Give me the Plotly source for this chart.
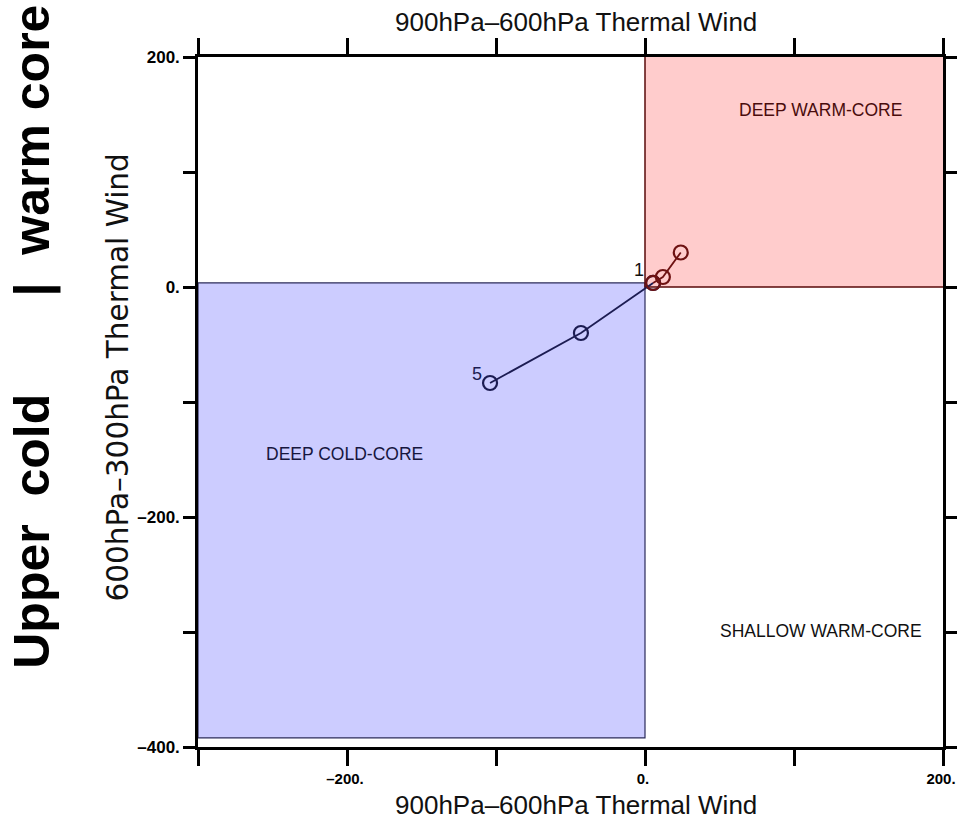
import plotly.graph_objects as go

# ---- data ----
x_ticks = [-300, -200, -100, 0, 100, 200]
x_tick_text = ["", "\u2013200.", "", "0.", "", "200."]
y_ticks = [-400, -300, -200, -100, 0, 100, 200]
y_tick_text = ["\u2013400.", "", "\u2013200.", "", "0.", "", "200."]

# phase regions (x0, x1, y0, y1)
cold_region = [-300, 0, -392, 3.5]
warm_region = [0, 202, 0, 205]

# track points
warm_x = [24, 12, 5.4]
warm_y = [30, 8.7, 3.5]
cold_x = [5.4, -43, -104]
cold_y = [3.5, -40, -83.5]

region_labels = ["DEEP WARM-CORE", "DEEP COLD-CORE", "SHALLOW WARM-CORE"]
region_label_x = [118, -202, 118]
region_label_y = [154, -145, -299]
region_label_colors = ["#4a0c0c", "#16163e", "#111111"]

FONT = "Liberation Sans, Arial, sans-serif"
RED = "#6e1212"
NAVY = "#1c1c52"

fig = go.Figure()

fig.add_trace(go.Scatter(x=cold_x, y=cold_y, mode="lines+markers",
                         line=dict(color=NAVY, width=1.8),
                         marker=dict(symbol="circle-open", size=14, color=NAVY, line=dict(width=2.2)),
                         hoverinfo="skip", showlegend=False))
fig.add_trace(go.Scatter(x=warm_x, y=warm_y, mode="lines+markers",
                         line=dict(color=RED, width=1.8),
                         marker=dict(symbol="circle-open", size=14, color=RED, line=dict(width=2.2)),
                         hoverinfo="skip", showlegend=False))

fig.add_shape(type="rect", xref="x", yref="y", layer="below",
              x0=cold_region[0], x1=cold_region[1], y0=cold_region[2], y1=cold_region[3],
              fillcolor="#ccccff", line=dict(color="#2a2a5a", width=1.2))
fig.add_shape(type="rect", xref="x", yref="y", layer="below",
              x0=warm_region[0], x1=warm_region[1], y0=warm_region[2], y1=warm_region[3],
              fillcolor="#ffcccc", line=dict(color="#5a0a0a", width=1.5))

for t, x, y, c in zip(region_labels, region_label_x, region_label_y, region_label_colors):
    fig.add_annotation(x=x, y=y, xref="x", yref="y", text=t, showarrow=False,
                       font=dict(family=FONT, size=17.5, color=c))

# point labels
fig.add_annotation(x=warm_x[2], y=warm_y[2], xref="x", yref="y", text="1", showarrow=False,
                   xshift=-14, yshift=13, font=dict(family=FONT, size=18, color="#111111"))
fig.add_annotation(x=cold_x[2], y=cold_y[2], xref="x", yref="y", text="5", showarrow=False,
                   xshift=-13, yshift=9, font=dict(family=FONT, size=18, color=NAVY))

# titles
fig.add_annotation(x=0.508, y=1.051, xref="paper", yref="paper", text="900hPa\u2013600hPa Thermal Wind",
                   showarrow=False, xanchor="center", yanchor="middle",
                   font=dict(family=FONT, size=26, color="#111111"))
fig.add_annotation(x=0.508, y=-0.084, xref="paper", yref="paper", text="900hPa\u2013600hPa Thermal Wind",
                   showarrow=False, xanchor="center", yanchor="middle",
                   font=dict(family=FONT, size=26, color="#111111"))
fig.add_annotation(x=-0.107, y=0.536, xref="paper", yref="paper", text="600hPa\u2013300hPa Thermal Wind",
                   showarrow=False, xanchor="center", yanchor="middle", textangle=-90,
                   font=dict(family="DejaVu Sans, sans-serif", size=29.5, color="#111111"))
fig.add_annotation(x=-0.222, y=0.594, xref="paper", yref="paper",
                   text="Upper  cold       |  warm core",
                   showarrow=False, xanchor="center", yanchor="middle", textangle=-90,
                   font=dict(family="Liberation Sans, Arial, sans-serif", size=50, color="#000000", weight="bold"))

fig.update_xaxes(range=[-300, 200], tickvals=x_ticks, ticktext=x_tick_text, automargin=False,
                 ticklabeloverflow="allow", ticklabelshift=-2,
                 showgrid=False, zeroline=False, showline=True, linecolor="black", linewidth=2.5,
                 mirror="ticks", ticks="outside", ticklen=16, tickwidth=2.5, tickcolor="black",
                 tickfont=dict(family=FONT, size=15, color="black", weight="bold"))
fig.update_yaxes(range=[-400, 200], tickvals=y_ticks, ticktext=y_tick_text, automargin=False,
                 ticklabeloverflow="allow",
                 showgrid=False, zeroline=False, showline=True, linecolor="black", linewidth=2.5,
                 mirror="ticks", ticks="outside", ticklen=12, tickwidth=2.5, tickcolor="black",
                 tickfont=dict(family=FONT, size=17, color="black", weight="bold"))

fig.update_layout(width=957, height=824, margin=dict(l=198, r=14, t=57, b=77),
                  plot_bgcolor="white", paper_bgcolor="white", showlegend=False)

fig.write_html("out.html")
